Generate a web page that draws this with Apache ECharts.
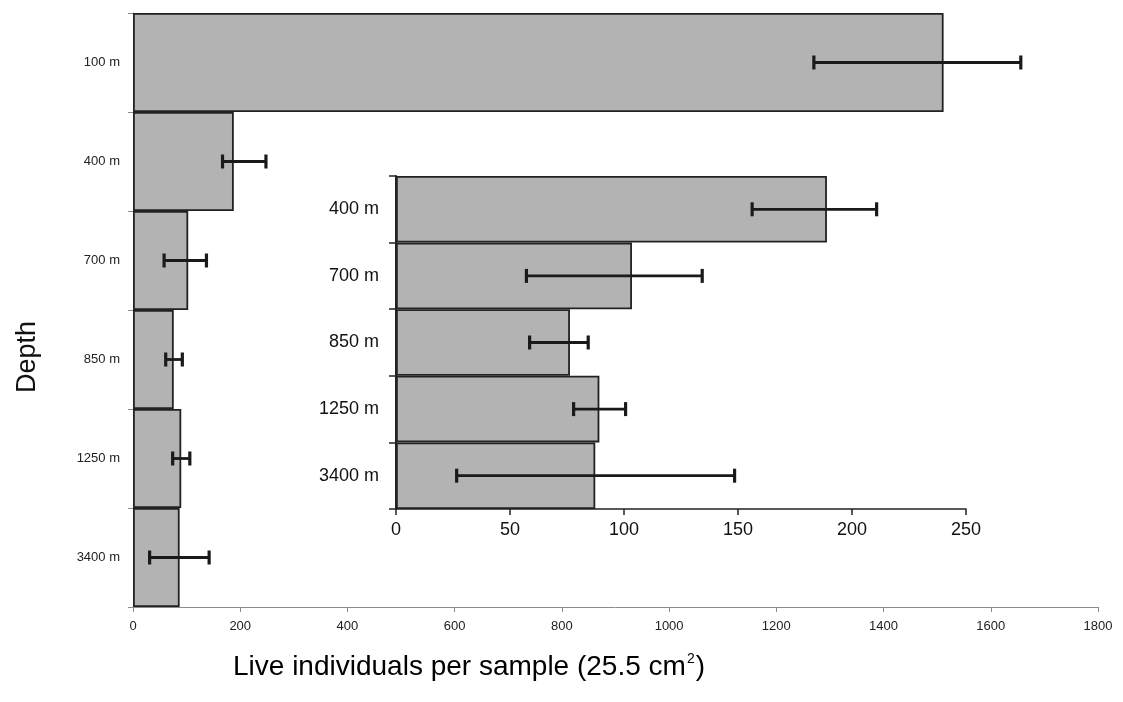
<!DOCTYPE html>
<html>
<head>
<meta charset="utf-8">
<script src="https://cdn.jsdelivr.net/npm/echarts@6/dist/echarts.min.js"></script>
<style>
  html, body { margin: 0; padding: 0; background: #fff; }
  #main { width: 1123px; height: 702px; }
</style>
</head>
<body>
<div id="main"></div>
<script>
// main panel: all depths
var depthsAll = ['100 m', '400 m', '700 m', '850 m', '1250 m', '3400 m'];
var meanAll = [1512, 188, 103, 76, 90, 87];
var lowAll = [1270, 167, 58, 61, 74, 31];
var highAll = [1656, 248, 137, 92, 106, 142];

// inset: without 100 m
var depthsInset = ['400 m', '700 m', '850 m', '1250 m', '3400 m'];
var meanInset = [189, 103.5, 76.3, 89.2, 87.4];
var lowInset = [156.2, 57.2, 58.6, 77.9, 26.6];
var highInset = [210.8, 134.3, 84.3, 100.7, 148.5];

var FONT = '"Liberation Sans", Arial, sans-serif';

function errData(low, high) {
    var d = [];
    for (let i = 0; i < low.length; i++) {
        d.push([i, low[i], high[i]]);
    }
    return d;
}

// error bar with caps
function renderErr(params, api) {
    let cat = api.value(0);
    let p1 = api.coord([api.value(1), cat]);
    let p2 = api.coord([api.value(2), cat]);
    let cap = 7;
    return {
        type: 'group',
        children: [
            { type: 'line', shape: { x1: p1[0], y1: p1[1], x2: p2[0], y2: p2[1] }, style: { stroke: '#1a1a1a', lineWidth: 2.8 } },
            { type: 'line', shape: { x1: p1[0], y1: p1[1] - cap, x2: p1[0], y2: p1[1] + cap }, style: { stroke: '#1a1a1a', lineWidth: 3.2 } },
            { type: 'line', shape: { x1: p2[0], y1: p2[1] - cap, x2: p2[0], y2: p2[1] + cap }, style: { stroke: '#1a1a1a', lineWidth: 3.2 } }
        ]
    };
}

var plain = function (v) { return String(v); };

var chart = echarts.init(document.getElementById('main'));

var option = {
    backgroundColor: '#fff',
    animation: false,
    grid: [
        { left: 133, top: 13, width: 965, height: 594 },
        { left: 396, top: 176, width: 570, height: 333 }
    ],
    xAxis: [
        {
            gridIndex: 0, type: 'value', min: 0, max: 1800, interval: 200,
            splitLine: { show: false },
            axisLine: { show: true, lineStyle: { color: '#8c8c8c', width: 1 } },
            axisTick: { show: true, length: 5, lineStyle: { color: '#8c8c8c' } },
            axisLabel: { color: '#222', fontSize: 13, fontFamily: FONT, margin: 13, formatter: plain }
        },
        {
            gridIndex: 1, type: 'value', min: 0, max: 250, interval: 50,
            splitLine: { show: false },
            axisLine: { show: true, lineStyle: { color: '#222', width: 1.5 } },
            axisTick: { show: true, length: 6, lineStyle: { color: '#222', width: 1.5 } },
            axisLabel: { color: '#111', fontSize: 18, fontFamily: FONT, margin: 12, formatter: plain }
        }
    ],
    yAxis: [
        {
            gridIndex: 0, type: 'category', data: depthsAll, inverse: true,
            axisLine: { show: true, lineStyle: { color: '#8c8c8c' } },
            axisTick: { show: true, length: 5, lineStyle: { color: '#8c8c8c' } },
            axisLabel: { color: '#222', fontSize: 13, fontFamily: FONT, margin: 13 }
        },
        {
            gridIndex: 1, type: 'category', data: depthsInset, inverse: true,
            axisLine: { show: true, lineStyle: { color: '#222', width: 2 } },
            axisTick: { show: true, length: 7, lineStyle: { color: '#222', width: 1.5 } },
            axisLabel: { color: '#111', fontSize: 18, fontFamily: FONT, margin: 17 }
        }
    ],
    series: [
        {
            type: 'bar', xAxisIndex: 0, yAxisIndex: 0, data: meanAll,
            barCategoryGap: '0%',
            itemStyle: { color: '#b3b3b3', borderColor: '#222', borderWidth: 1.8 },
            z: 2
        },
        {
            type: 'custom', xAxisIndex: 0, yAxisIndex: 0,
            data: errData(lowAll, highAll),
            encode: { x: [1, 2], y: 0 },
            renderItem: renderErr, z: 5
        },
        {
            type: 'bar', xAxisIndex: 1, yAxisIndex: 1, data: meanInset,
            barCategoryGap: '0%',
            itemStyle: { color: '#b3b3b3', borderColor: '#222', borderWidth: 1.8 },
            z: 2
        },
        {
            type: 'custom', xAxisIndex: 1, yAxisIndex: 1,
            data: errData(lowInset, highInset),
            encode: { x: [1, 2], y: 0 },
            renderItem: renderErr, z: 5
        }
    ],
    graphic: [
        {
            type: 'text', left: 14, top: 321, rotation: Math.PI / 2,
            style: { text: 'Depth', font: '27px ' + FONT, fill: '#111' }
        },
        {
            type: 'text', left: 233, top: 652,
            style: {
                rich: {
                    a: { fontSize: 28, fontFamily: FONT, color: '#111' },
                    s: { fontSize: 14, fontFamily: FONT, color: '#111', verticalAlign: 'top', padding: [0, 1, 16, 1] }
                },
                text: '{a|Live individuals per sample (25.5 cm}{s|2}{a|)}'
            }
        }
    ]
};

chart.setOption(option);
</script>
</body>
</html>
